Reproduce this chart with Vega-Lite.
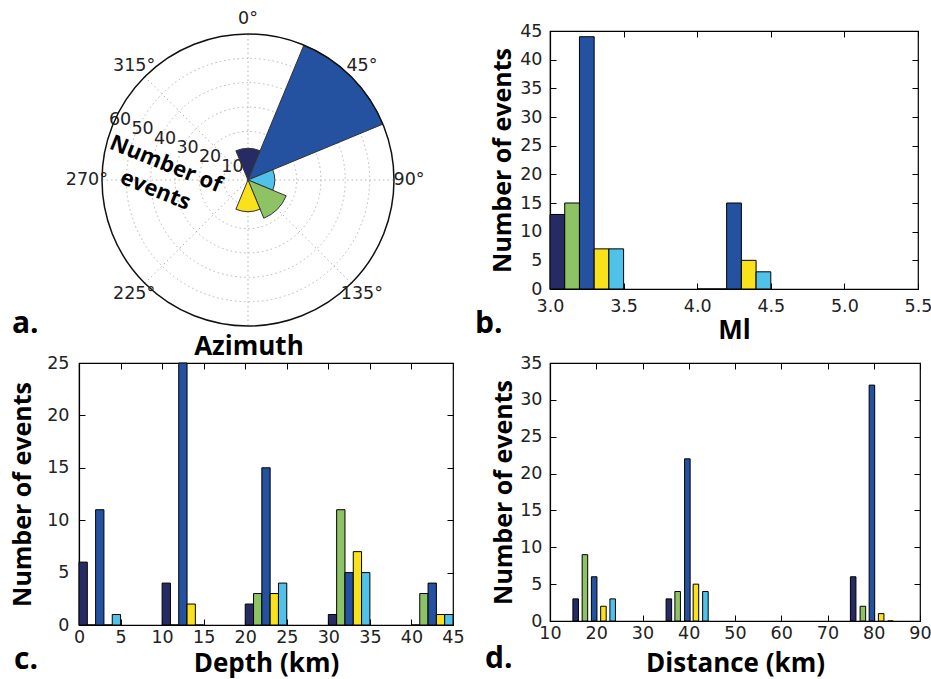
{
  "$schema": "https://vega.github.io/schema/vega-lite/v6.json",
  "background": "white",
  "padding": {"left": 10, "top": 9, "right": 5, "bottom": 2},
  "columns": 2,
  "bounds": "flush",
  "spacing": {"row": 34, "column": 97},
  "config": {
    "view": {"stroke": "black", "strokeWidth": 1.2},
    "axis": {
      "grid": false,
      "labelFlush": false,
      "labelOverlap": false,
      "domainColor": "black",
      "domainWidth": 1.2,
      "tickColor": "black",
      "tickWidth": 1,
      "tickSize": -6,
      "labelPadding": 14,
      "labelFont": "DejaVu Sans",
      "labelFontSize": 17.5,
      "labelColor": "#222",
      "titleFont": "Open Sans",
      "titleFontSize": 26,
      "titleFontWeight": "bold",
      "titleColor": "black"
    },
    "axisY": {"titleFontSize": 25},
    "text": {"font": "DejaVu Sans", "fontSize": 17.5, "color": "#222"}
  },
  "datasets": {
    "az": [
      {"cls": "navy", "t1": -22.5, "t2": 22.5, "n": 13},
      {"cls": "blue", "t1": 22.5, "t2": 67.5, "n": 60},
      {"cls": "cyan", "t1": 67.5, "t2": 112.5, "n": 11},
      {"cls": "green", "t1": 112.5, "t2": 157.5, "n": 17},
      {"cls": "yellow", "t1": 157.5, "t2": 202.5, "n": 13}
    ],
    "rings": [{"r": 10}, {"r": 20}, {"r": 30}, {"r": 40}, {"r": 50}],
    "spokes": [
      {"a": 0, "r": 0}, {"a": 0, "r": 60}, {"a": 45, "r": 0}, {"a": 45, "r": 60},
      {"a": 90, "r": 0}, {"a": 90, "r": 60}, {"a": 135, "r": 0}, {"a": 135, "r": 60},
      {"a": 180, "r": 0}, {"a": 180, "r": 60}, {"a": 225, "r": 0}, {"a": 225, "r": 60},
      {"a": 270, "r": 0}, {"a": 270, "r": 60}, {"a": 315, "r": 0}, {"a": 315, "r": 60}
    ],
    "rlabels": [
      {"r": 10, "lab": "10"}, {"r": 20, "lab": "20"}, {"r": 30, "lab": "30"},
      {"r": 40, "lab": "40"}, {"r": 50, "lab": "50"}, {"r": 60, "lab": "60"}
    ],
    "alabels": [
      {"a": 0, "lab": "0°"}, {"a": 45, "lab": "45°"}, {"a": 90, "lab": "90°"},
      {"a": 135, "lab": "135°"}, {"a": 225, "lab": "225°"}, {"a": 270, "lab": "270°"},
      {"a": 315, "lab": "315°"}
    ],
    "mag": [
      {"cls": "navy", "x1": 3.0, "x2": 3.1, "n": 13},
      {"cls": "green", "x1": 3.1, "x2": 3.2, "n": 15},
      {"cls": "blue", "x1": 3.2, "x2": 3.3, "n": 44},
      {"cls": "yellow", "x1": 3.3, "x2": 3.4, "n": 7},
      {"cls": "cyan", "x1": 3.4, "x2": 3.5, "n": 7},
      {"cls": "navy", "x1": 4.0, "x2": 4.1, "n": 0},
      {"cls": "green", "x1": 4.1, "x2": 4.2, "n": 0},
      {"cls": "blue", "x1": 4.2, "x2": 4.3, "n": 15},
      {"cls": "yellow", "x1": 4.3, "x2": 4.4, "n": 5},
      {"cls": "cyan", "x1": 4.4, "x2": 4.5, "n": 3}
    ],
    "depth": [
      {"cls": "navy", "x1": 0, "x2": 1, "n": 6},
      {"cls": "green", "x1": 1, "x2": 2, "n": 0},
      {"cls": "blue", "x1": 2, "x2": 3, "n": 11},
      {"cls": "yellow", "x1": 3, "x2": 4, "n": 0},
      {"cls": "cyan", "x1": 4, "x2": 5, "n": 1},
      {"cls": "navy", "x1": 10, "x2": 11, "n": 4},
      {"cls": "green", "x1": 11, "x2": 12, "n": 0},
      {"cls": "blue", "x1": 12, "x2": 13, "n": 25},
      {"cls": "yellow", "x1": 13, "x2": 14, "n": 2},
      {"cls": "cyan", "x1": 14, "x2": 15, "n": 0},
      {"cls": "navy", "x1": 20, "x2": 21, "n": 2},
      {"cls": "green", "x1": 21, "x2": 22, "n": 3},
      {"cls": "blue", "x1": 22, "x2": 23, "n": 15},
      {"cls": "yellow", "x1": 23, "x2": 24, "n": 3},
      {"cls": "cyan", "x1": 24, "x2": 25, "n": 4},
      {"cls": "navy", "x1": 30, "x2": 31, "n": 1},
      {"cls": "green", "x1": 31, "x2": 32, "n": 11},
      {"cls": "blue", "x1": 32, "x2": 33, "n": 5},
      {"cls": "yellow", "x1": 33, "x2": 34, "n": 7},
      {"cls": "cyan", "x1": 34, "x2": 35, "n": 5},
      {"cls": "navy", "x1": 40, "x2": 41, "n": 0},
      {"cls": "green", "x1": 41, "x2": 42, "n": 3},
      {"cls": "blue", "x1": 42, "x2": 43, "n": 4},
      {"cls": "yellow", "x1": 43, "x2": 44, "n": 1},
      {"cls": "cyan", "x1": 44, "x2": 45, "n": 1}
    ],
    "dist": [
      {"cls": "navy", "x1": 14.95, "x2": 16.15, "n": 3},
      {"cls": "green", "x1": 16.95, "x2": 18.15, "n": 9},
      {"cls": "blue", "x1": 18.95, "x2": 20.15, "n": 6},
      {"cls": "yellow", "x1": 20.95, "x2": 22.15, "n": 2},
      {"cls": "cyan", "x1": 22.95, "x2": 24.15, "n": 3},
      {"cls": "navy", "x1": 35.1, "x2": 36.3, "n": 3},
      {"cls": "green", "x1": 37.0, "x2": 38.2, "n": 4},
      {"cls": "blue", "x1": 39.1, "x2": 40.3, "n": 22},
      {"cls": "yellow", "x1": 40.95, "x2": 42.15, "n": 5},
      {"cls": "cyan", "x1": 43.0, "x2": 44.2, "n": 4},
      {"cls": "navy", "x1": 74.95, "x2": 76.15, "n": 6},
      {"cls": "green", "x1": 77.05, "x2": 78.25, "n": 2},
      {"cls": "blue", "x1": 79.0, "x2": 80.2, "n": 32},
      {"cls": "yellow", "x1": 81.0, "x2": 82.2, "n": 1},
      {"cls": "cyan", "x1": 83.0, "x2": 84.2, "n": 0}
    ]
  },
  "concat": [
    {
      "width": 374,
      "height": 298,
      "view": {"stroke": null},
      "layer": [
        {
          "data": {"name": "rings"},
          "mark": {"type": "arc", "filled": false, "stroke": "#b5b5b5", "strokeWidth": 1, "strokeDash": [1.5, 3]},
          "encoding": {
            "x": {"datum": 0, "type": "quantitative", "scale": {"domain": [-69.45, 84.25], "nice": false, "zero": false, "padding": 0}, "axis": null},
            "y": {"datum": 0, "type": "quantitative", "scale": {"domain": [-61.23, 61.23], "nice": false, "zero": false, "padding": 0}, "axis": null},
            "radius": {"field": "r", "type": "quantitative", "stack": null, "scale": {"type": "linear", "domain": [0, 60], "range": [0, 146], "zero": true, "nice": false}}
          }
        },
        {
          "data": {"name": "spokes"},
          "transform": [
            {"calculate": "datum.r*sin(datum.a*PI/180)", "as": "px"},
            {"calculate": "datum.r*cos(datum.a*PI/180)", "as": "py"}
          ],
          "mark": {"type": "line", "stroke": "#b5b5b5", "strokeWidth": 1, "strokeDash": [1.5, 3]},
          "encoding": {
            "x": {"field": "px", "type": "quantitative", "axis": null},
            "y": {"field": "py", "type": "quantitative", "axis": null},
            "detail": {"field": "a", "type": "nominal"}
          }
        },
        {
          "data": {"name": "rlabels"},
          "mark": {"type": "text", "dx": 7, "dy": -4, "fontSize": 17.5},
          "encoding": {
            "x": {"datum": 0, "type": "quantitative", "axis": null},
            "y": {"datum": 0, "type": "quantitative", "axis": null},
            "theta": {"datum": 292.5, "type": "quantitative", "scale": {"domain": [0, 360], "range": [0, 6.283185307]}},
            "radius": {"field": "r", "type": "quantitative", "stack": null},
            "text": {"field": "lab"}
          }
        },
        {
          "data": {"values": [{"k": 1}]},
          "mark": {"type": "text", "text": ["Number of", "events"], "font": "Open Sans", "fontWeight": "bold", "fontSize": 22, "lineHeight": 28, "angle": 22, "color": "black", "align": "center", "baseline": "middle"},
          "encoding": {
            "x": {"datum": -33.7, "type": "quantitative", "axis": null},
            "y": {"datum": 6.6, "type": "quantitative", "axis": null}
          }
        },
        {
          "data": {"name": "az"},
          "mark": {"type": "arc", "stroke": "#333", "strokeWidth": 1},
          "encoding": {
            "x": {"datum": 0, "type": "quantitative", "axis": null},
            "y": {"datum": 0, "type": "quantitative", "axis": null},
            "theta": {"field": "t1", "type": "quantitative", "stack": null},
            "theta2": {"field": "t2"},
            "radius": {"field": "n", "type": "quantitative", "stack": null},
            "color": {"field": "cls", "type": "nominal", "legend": null, "scale": {"domain": ["navy", "green", "blue", "yellow", "cyan"], "range": ["#262c63", "#8dc364", "#2452a0", "#f9e11b", "#50c2e9"]}}
          }
        },
        {
          "data": {"values": [{"r": 60}]},
          "mark": {"type": "arc", "filled": false, "stroke": "#111", "strokeWidth": 1.5},
          "encoding": {
            "x": {"datum": 0, "type": "quantitative", "axis": null},
            "y": {"datum": 0, "type": "quantitative", "axis": null},
            "radius": {"field": "r", "type": "quantitative", "stack": null}
          }
        },
        {
          "data": {"name": "alabels"},
          "mark": {"type": "text", "fontSize": 17.5, "align": "center", "baseline": "middle"},
          "encoding": {
            "x": {"datum": 0, "type": "quantitative", "axis": null},
            "y": {"datum": 0, "type": "quantitative", "axis": null},
            "theta": {"field": "a", "type": "quantitative", "stack": null},
            "radius": {"datum": 66.2, "type": "quantitative"},
            "text": {"field": "lab"}
          }
        },
        {
          "data": {"values": [{"k": 1}]},
          "mark": {"type": "text", "text": "a.", "font": "Open Sans", "fontWeight": "bold", "fontSize": 30, "color": "black", "align": "left", "baseline": "alphabetic"},
          "encoding": {
            "x": {"datum": -97, "type": "quantitative", "axis": null},
            "y": {"datum": -62.9, "type": "quantitative", "axis": null}
          }
        },
        {
          "data": {"values": [{"k": 1}]},
          "mark": {"type": "text", "text": "Azimuth", "font": "Open Sans", "fontWeight": "bold", "fontSize": 26, "color": "black", "align": "center", "baseline": "alphabetic"},
          "encoding": {
            "x": {"datum": 0.4, "type": "quantitative", "axis": null},
            "y": {"datum": -71.9, "type": "quantitative", "axis": null}
          }
        }
      ]
    },
    {
      "width": 368,
      "height": 258,
      "data": {"name": "mag"},
      "resolve": {"axis": {"x": "independent", "y": "independent"}},
      "layer": [
        {
          "mark": {"type": "bar", "stroke": "black", "strokeWidth": 1},
          "encoding": {
            "x": {"field": "x1", "type": "quantitative", "scale": {"domain": [3, 5.5], "nice": false, "zero": false, "padding": 0}, "axis": {"values": [3, 3.5, 4, 4.5, 5, 5.5], "format": ".1f", "title": "Ml", "titlePadding": 3}},
            "x2": {"field": "x2"},
            "y": {"field": "n", "type": "quantitative", "scale": {"domain": [0, 45], "nice": false, "padding": 0}, "axis": {"values": [0, 5, 10, 15, 20, 25, 30, 35, 40, 45], "title": "Number of events", "titlePadding": 4}},
            "y2": {"datum": 0},
            "color": {"field": "cls", "type": "nominal", "legend": null, "scale": {"domain": ["navy", "green", "blue", "yellow", "cyan"], "range": ["#262c63", "#8dc364", "#2452a0", "#f9e11b", "#50c2e9"]}}
          }
        },
        {
          "mark": {"type": "point", "opacity": 0},
          "encoding": {
            "x": {"field": "x1", "type": "quantitative", "axis": {"orient": "top", "labels": false, "domain": false, "title": null, "values": [3, 3.5, 4, 4.5, 5, 5.5]}},
            "y": {"field": "n", "type": "quantitative", "axis": {"orient": "right", "labels": false, "domain": false, "title": null, "values": [0, 5, 10, 15, 20, 25, 30, 35, 40, 45]}}
          }
        },
        {
          "data": {"values": [{"k": 1}]},
          "mark": {"type": "text", "text": "b.", "font": "Open Sans", "fontWeight": "bold", "fontSize": 30, "color": "black", "align": "left", "baseline": "alphabetic"},
          "encoding": {
            "x": {"datum": 2.49, "type": "quantitative", "axis": null},
            "y": {"datum": -7.67, "type": "quantitative", "axis": null}
          }
        }
      ]
    },
    {
      "width": 374,
      "height": 262,
      "data": {"name": "depth"},
      "resolve": {"axis": {"x": "independent", "y": "independent"}},
      "layer": [
        {
          "mark": {"type": "bar", "stroke": "black", "strokeWidth": 1},
          "encoding": {
            "x": {"field": "x1", "type": "quantitative", "scale": {"domain": [0, 45], "nice": false, "padding": 0}, "axis": {"values": [0, 5, 10, 15, 20, 25, 30, 35, 40, 45], "title": "Depth (km)", "titlePadding": 5, "labelPadding": 9}},
            "x2": {"field": "x2"},
            "y": {"field": "n", "type": "quantitative", "scale": {"domain": [0, 25], "nice": false, "padding": 0}, "axis": {"values": [0, 5, 10, 15, 20, 25], "title": "Number of events", "titlePadding": 11, "labelPadding": 16}},
            "y2": {"datum": 0},
            "color": {"field": "cls", "type": "nominal", "legend": null, "scale": {"domain": ["navy", "green", "blue", "yellow", "cyan"], "range": ["#262c63", "#8dc364", "#2452a0", "#f9e11b", "#50c2e9"]}}
          }
        },
        {
          "mark": {"type": "point", "opacity": 0},
          "encoding": {
            "x": {"field": "x1", "type": "quantitative", "axis": {"orient": "top", "labels": false, "domain": false, "title": null, "values": [0, 5, 10, 15, 20, 25, 30, 35, 40, 45]}},
            "y": {"field": "n", "type": "quantitative", "axis": {"orient": "right", "labels": false, "domain": false, "title": null, "values": [0, 5, 10, 15, 20, 25]}}
          }
        },
        {
          "data": {"values": [{"k": 1}]},
          "mark": {"type": "text", "text": "c.", "font": "Open Sans", "fontWeight": "bold", "fontSize": 30, "color": "black", "align": "left", "baseline": "alphabetic"},
          "encoding": {
            "x": {"datum": -7.82, "type": "quantitative", "axis": null},
            "y": {"datum": -4.2, "type": "quantitative", "axis": null}
          }
        }
      ]
    },
    {
      "width": 370,
      "height": 258,
      "data": {"name": "dist"},
      "resolve": {"axis": {"x": "independent", "y": "independent"}},
      "layer": [
        {
          "mark": {"type": "bar", "stroke": "black", "strokeWidth": 1},
          "encoding": {
            "x": {"field": "x1", "type": "quantitative", "scale": {"domain": [10, 90], "nice": false, "zero": false, "padding": 0}, "axis": {"values": [10, 20, 30, 40, 50, 60, 70, 80, 90], "title": "Distance (km)", "titlePadding": 9, "labelPadding": 9}},
            "x2": {"field": "x2"},
            "y": {"field": "n", "type": "quantitative", "scale": {"domain": [0, 35], "nice": false, "padding": 0}, "axis": {"values": [0, 5, 10, 15, 20, 25, 30, 35], "title": "Number of events", "titlePadding": 3}},
            "y2": {"datum": 0},
            "color": {"field": "cls", "type": "nominal", "legend": null, "scale": {"domain": ["navy", "green", "blue", "yellow", "cyan"], "range": ["#262c63", "#8dc364", "#2452a0", "#f9e11b", "#50c2e9"]}}
          }
        },
        {
          "mark": {"type": "point", "opacity": 0},
          "encoding": {
            "x": {"field": "x1", "type": "quantitative", "axis": {"orient": "top", "labels": false, "domain": false, "title": null, "values": [10, 20, 30, 40, 50, 60, 70, 80, 90]}},
            "y": {"field": "n", "type": "quantitative", "axis": {"orient": "right", "labels": false, "domain": false, "title": null, "values": [0, 5, 10, 15, 20, 25, 30, 35]}}
          }
        },
        {
          "data": {"values": [{"k": 1}]},
          "mark": {"type": "text", "text": "d.", "font": "Open Sans", "fontWeight": "bold", "fontSize": 30, "color": "black", "align": "left", "baseline": "alphabetic"},
          "encoding": {
            "x": {"datum": -4.05, "type": "quantitative", "axis": null},
            "y": {"datum": -6.38, "type": "quantitative", "axis": null}
          }
        }
      ]
    }
  ]
}
